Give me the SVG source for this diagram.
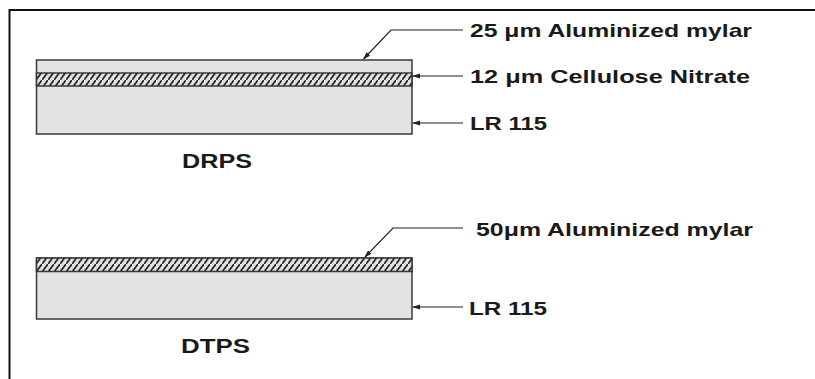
<svg xmlns="http://www.w3.org/2000/svg" width="815" height="379" viewBox="0 0 815 379">
<style>
.frame{fill:none;stroke:#111;stroke-width:2}
.layer{fill:#e3e3e3;stroke:#3a3a3a;stroke-width:1.5}
.hatch{fill:url(#hatch);stroke:#3a3a3a;stroke-width:1.5}
.lead{fill:none;stroke:#222;stroke-width:1.2}
.lbl{font-family:"Liberation Sans",Arial,sans-serif;font-weight:bold;font-size:18.5px;fill:#1a1a1a}
.ttl{font-family:"Liberation Sans",Arial,sans-serif;font-weight:bold;font-size:20.5px;fill:#1a1a1a}
</style>
<defs>
<pattern id="hatch" patternUnits="userSpaceOnUse" width="6" height="8">
<rect width="6" height="8" fill="#e3e3e3"/>
<path d="M-1,9.33 L7,-1.33" stroke="#2a2a2a" stroke-width="1.8"/>
</pattern>
<marker id="arr" markerWidth="8" markerHeight="6" refX="7" refY="3" orient="auto" markerUnits="userSpaceOnUse">
<path d="M0,0.5 L8,3 L0,5.5 Z" fill="#222"/>
</marker>
</defs>
<path class="frame" d="M9.5,379 V10 H815"/>
<g id="drps">
<rect class="layer" x="36.5" y="60" width="375.5" height="74"/>
<rect class="hatch" x="36.5" y="73" width="375.5" height="13"/>
<text class="ttl" x="182" y="168" textLength="70" lengthAdjust="spacingAndGlyphs">DRPS</text>
</g>
<g id="dtps">
<rect class="layer" x="36.5" y="258" width="375.5" height="61"/>
<rect class="hatch" x="36.5" y="258" width="375.5" height="13.5"/>
<text class="ttl" x="181" y="353" textLength="69" lengthAdjust="spacingAndGlyphs">DTPS</text>
</g>
<g id="labels">
<text class="lbl" x="470" y="37" textLength="282" lengthAdjust="spacingAndGlyphs">25 μm Aluminized mylar</text>
<text class="lbl" x="470" y="83" textLength="280" lengthAdjust="spacingAndGlyphs">12 μm Cellulose Nitrate</text>
<text class="lbl" x="470" y="130" textLength="77" lengthAdjust="spacingAndGlyphs">LR 115</text>
<text class="lbl" x="476" y="236" textLength="277" lengthAdjust="spacingAndGlyphs">50μm Aluminized mylar</text>
<text class="lbl" x="469" y="315" textLength="78" lengthAdjust="spacingAndGlyphs">LR 115</text>
</g>
<g id="connectors">
<path class="lead" d="M463,30 H391 L363.5,59" marker-end="url(#arr)"/>
<path class="lead" d="M463,76 H413" marker-end="url(#arr)"/>
<path class="lead" d="M463,123 H413" marker-end="url(#arr)"/>
<path class="lead" d="M463,228 H393 L365,257" marker-end="url(#arr)"/>
<path class="lead" d="M463,307 H413" marker-end="url(#arr)"/>
</g>
</svg>
